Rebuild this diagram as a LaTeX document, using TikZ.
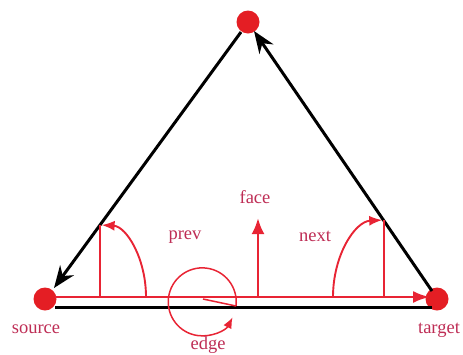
\documentclass[tikz,border=0pt]{standalone}
\usepackage{fontspec}
\setmainfont{Liberation Serif}
\usetikzlibrary{arrows.meta}
\definecolor{dotred}{RGB}{228,30,36}
\definecolor{linered}{RGB}{232,36,52}
\definecolor{txt}{RGB}{190,45,85}
\begin{document}
\begin{tikzpicture}[x=1pt,y=-1pt,
  vdot/.style={circle,fill=dotred,draw=none,minimum size=23pt,inner sep=0pt},
  blk/.style={draw=black,line width=3pt},
  blkarrow/.style={blk,-{Stealth[length=22pt,width=17pt]}},
  rline/.style={draw=linered,line width=2.8pt},
  rthin/.style={draw=linered,line width=1.9pt},
  rarrow/.style={-{Latex[length=13pt,width=10pt]}},
  lbl/.style={text=txt,font=\fontsize{18.5}{20}\selectfont,inner sep=0pt}]
\useasboundingbox (0,0) rectangle (463,354);
% vertices
\node[vdot] (top) at (248,22) {};
\node[vdot] (src) at (45,299) {};
\node[vdot] (tgt) at (437,299) {};
% black edges
\coordinate (b1) at (55,307);
\coordinate (b2) at (432,307);
\draw[blk] (b1) -- (b2);
\coordinate (t1) at (432,291);
\coordinate (t2) at (254,31);
\draw[blkarrow] (t1) -- (t2);
\coordinate (s1) at (241,32);
\coordinate (s2) at (54,288);
\draw[blkarrow] (s1) -- (s2);
% red half-edge
\coordinate (e1) at (55,297);
\coordinate (e2) at (430,297);
\draw[rline,-{Latex[length=17pt,width=12pt]}] (e1) -- (e2);
% prev
\coordinate (p0) at (100,297);
\coordinate (p1) at (100,225);
\draw[rthin] (p0) -- (p1);
\coordinate (pa) at (146,297);
\draw[rthin,rarrow] (pa) arc[start angle=0,end angle=-88,x radius=46,y radius=72];
% next
\coordinate (n0) at (384,297);
\coordinate (n1) at (384,220);
\draw[rthin] (n0) -- (n1);
\coordinate (na) at (333,297);
\draw[rthin,rarrow] (na) arc[start angle=180,end angle=268,x radius=51,y radius=77];
% face
\coordinate (f0) at (258,297);
\coordinate (f1) at (258,218);
\draw[rline,-{Latex[length=16pt,width=13pt]}] (f0) -- (f1);
% edge circle
\coordinate (c0) at (203,299);
\coordinate (c1) at (236,306);
\draw[draw=linered,line width=1.5pt] (c0) -- (c1);
\draw[draw=linered,line width=1.5pt,-{Latex[length=11pt,width=9pt]}] (c1) arc[start angle=7,end angle=-333,radius=34];
% labels
\node[lbl] (lface) at (255,197) {face};
\node[lbl] (lprev) at (185,237) {prev};
\node[lbl] (lnext) at (315,236) {next};
\node[lbl] (lsrc) at (36,329) {source};
\node[lbl] (ltgt) at (439,330) {target};
\node[lbl] (ledge) at (208,345) {edge};
\end{tikzpicture}
\end{document}
